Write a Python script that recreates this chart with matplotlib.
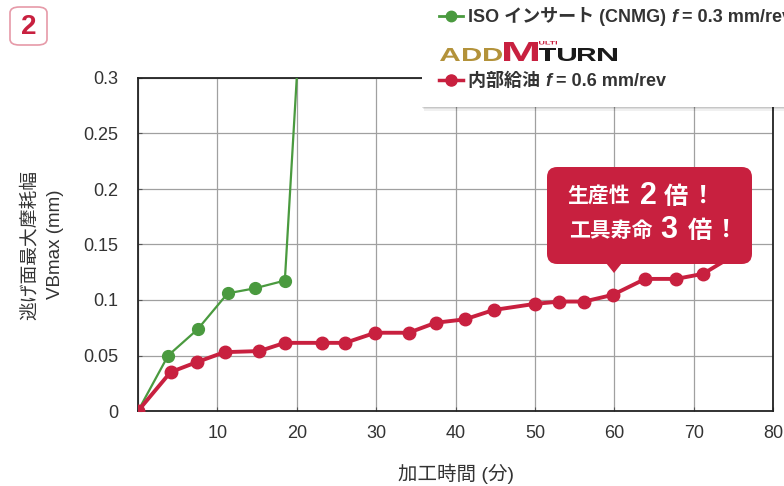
import matplotlib.pyplot as plt
from matplotlib.patches import FancyBboxPatch, Polygon, PathPatch, Rectangle
from matplotlib.textpath import TextPath
from matplotlib.font_manager import FontProperties
from matplotlib.transforms import Affine2D, IdentityTransform

# wear width VBmax (mm) over machining time (min)
iso_time = [0, 3.8, 7.5, 11.3, 14.7, 18.5, 20.0]
iso_wear = [0, 0.050, 0.0735, 0.106, 0.1105, 0.1175, 0.30]

amt_time = [0, 4.1, 7.4, 10.9, 15.3, 18.5, 23.2, 26.1, 29.9, 34.1, 37.5, 41.2,
            44.8, 50.0, 53.1, 56.2, 59.8, 63.9, 67.8, 71.2, 75.0]
amt_wear = [0, 0.035, 0.044, 0.053, 0.054, 0.0614, 0.0614, 0.0614, 0.0705, 0.0705,
            0.0795, 0.0826, 0.091, 0.0965, 0.0986, 0.0986, 0.1046, 0.119, 0.119,
            0.1236, 0.140]

x_ticks = [0, 10, 20, 30, 40, 50, 60, 70, 80]
x_labels = ['', '10', '20', '30', '40', '50', '60', '70', '80']
y_ticks = [0, 0.05, 0.1, 0.15, 0.2, 0.25, 0.3]
y_labels = ['0', '0.05', '0.1', '0.15', '0.2', '0.25', '0.3']

RED = '#c8203f'
GREEN = '#4a9a3f'
TXT = '#333333'

plt.rcParams['font.family'] = ['Liberation Sans', 'Noto Sans CJK JP']

W, H = 784, 486
fig = plt.figure(figsize=(W / 100, H / 100), dpi=100)
renderer = fig.canvas.get_renderer()


def fx(x):
    return x / W


def fy(y):
    return 1 - y / H


ax = fig.add_axes([fx(138), fy(411), fx(773 - 138), (411 - 78) / H])
ax.plot(iso_time, iso_wear, color=GREEN, lw=1.6, marker='o', ms=8.5,
        markevery=list(range(len(iso_time) - 1)), zorder=3)
ax.plot(amt_time, amt_wear, color=RED, lw=2.8, marker='o', ms=9, zorder=4)
ax.set_xlim(0, 80)
ax.set_ylim(0, 0.3)
ax.set_xticks(x_ticks, x_labels, fontsize=13, color=TXT)
ax.set_yticks(y_ticks, y_labels, fontsize=13, color=TXT)
ax.tick_params(direction='in', length=3, color='#555555')
ax.tick_params(axis='y', pad=14)
ax.tick_params(axis='x', pad=10)
ax.grid(True, color='#a0a0a0', lw=0.9)
for s in ax.spines.values():
    s.set_linewidth(1.3)
    s.set_color('#222222')
ax.set_xlabel('加工時間 (分)', fontsize=14, color=TXT, labelpad=16)
ax.set_ylabel('逃げ面最大摩耗幅\nVBmax (mm)', fontsize=13.5, color=TXT,
              labelpad=14, linespacing=1.65)

# badge in the upper-left corner
fig.patches.append(FancyBboxPatch((fx(10), fy(45)), fx(37), (45 - 7) / H,
                                  boxstyle='round,pad=0,rounding_size=0.012',
                                  transform=fig.transFigure, fc='white',
                                  ec='#e69aa8', lw=1.2))
fig.text(fx(28.5), fy(27), '2', fontsize=20, fontweight='bold', color=RED,
         ha='center', va='center')

# legend panel with shadow
for off, a in [(4, 0.06), (2.5, 0.08), (1.2, 0.10)]:
    fig.patches.append(Rectangle((fx(422 + off * 0.4), fy(107 + off)), fx(400), 120 / H,
                                 transform=fig.transFigure, fc='black', alpha=a, lw=0,
                                 zorder=5))
fig.patches.append(Rectangle((fx(422), fy(107)), fx(400), 120 / H,
                             transform=fig.transFigure, fc='white', lw=0, zorder=6))


def text_run(x, y, pieces, size):
    # lay out pieces left to right, each with its own style
    for s, style in pieces:
        t = fig.text(fx(x), fy(y), s, fontsize=size, color=TXT, fontweight='bold',
                     fontstyle=style, ha='left', va='center', zorder=8)
        x += t.get_window_extent(renderer).width


def legend_row(y, color, lw, ms, pieces):
    fig.lines.append(plt.Line2D([fx(439), fx(463)], [fy(y), fy(y)], color=color, lw=lw,
                                transform=fig.transFigure, zorder=7))
    fig.lines.append(plt.Line2D([fx(451)], [fy(y)], color=color, marker='o', ms=ms,
                                transform=fig.transFigure, zorder=7))
    text_run(468, y + 1, pieces, 13)


legend_row(16, GREEN, 2.0, 7.5, [('ISO インサート (CNMG) ', 'normal'), ('f', 'italic'),
                                 (' = 0.3 mm/rev', 'normal')])
legend_row(80, RED, 2.5, 8, [('内部給油 ', 'normal'), ('f', 'italic'),
                             (' = 0.6 mm/rev', 'normal')])

# brand logo drawn from glyph outlines stretched into their boxes
logo_font = FontProperties(family='Liberation Sans', weight='bold')


def glyph(s, x0, x1, y0, y1, color):
    tp = TextPath((0, 0), s, size=10, prop=logo_font)
    ext = tp.get_extents()
    sx = (x1 - x0) / ext.width
    sy = (y1 - y0) / ext.height
    tr = Affine2D().translate(-ext.x0, -ext.y0).scale(sx, sy).translate(x0, H - y1)
    fig.patches.append(PathPatch(tr.transform_path(tp), transform=IdentityTransform(),
                                 fc=color, lw=0, zorder=8))


glyph('A', 440, 460, 48, 61, '#b3923a')
glyph('D', 463, 481, 48, 61, '#b3923a')
glyph('D', 484, 502, 48, 61, '#b3923a')
glyph('M', 504, 538, 42, 61, RED)
glyph('T', 539, 556, 48, 61, '#1a1a1a')
glyph('U', 558, 576, 48, 61, '#1a1a1a')
glyph('R', 578, 596, 48, 61, '#1a1a1a')
glyph('N', 598, 617, 48, 61, '#1a1a1a')
glyph('ULTI', 539, 557, 41, 44.5, RED)

# callout box
fig.patches.append(FancyBboxPatch((fx(547), fy(264)), fx(752 - 547), (264 - 167) / H,
                                  boxstyle='round,pad=0,rounding_size=0.013',
                                  mutation_aspect=W / H,
                                  transform=fig.transFigure, fc=RED, lw=0, zorder=5))
fig.patches.append(Polygon([(fx(606), fy(263)), (fx(622), fy(263)), (fx(614), fy(273))],
                           closed=True, transform=fig.transFigure, fc=RED, lw=0, zorder=5))

parts = [
    (599, 197, '生産性', 15),
    (648, 196, '2', 22),
    (676, 197, '倍', 17.5),
    (703, 196, '！', 17.5),
    (611, 231, '工具寿命', 15),
    (669, 230, '3', 22),
    (700, 231, '倍', 17.5),
    (726, 230, '！', 17.5),
]
for x, y, s, size in parts:
    fig.text(fx(x), fy(y), s, fontsize=size, fontweight='bold', color='white',
             ha='center', va='center', zorder=6)

fig.savefig('out.png', dpi=100)
